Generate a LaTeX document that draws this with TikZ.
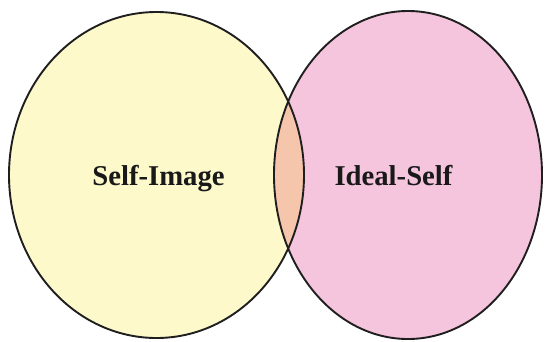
\documentclass[tikz,border=0pt]{standalone}
\usepackage{fontspec}
\setmainfont{Liberation Serif}
\usetikzlibrary{shapes.geometric}
\definecolor{selfyellow}{RGB}{253,249,202}
\definecolor{idealpink}{RGB}{245,196,221}
\definecolor{lenspeach}{RGB}{246,198,172}
\tikzset{
  setshape/.style={ellipse, inner sep=0pt, outer sep=0pt, line width=1.9pt, draw=black!88},
  setlabel/.style={anchor=base, inner sep=0pt, font=\bfseries\fontsize{28.7}{30}\selectfont, text=black!90}
}
\begin{document}
\begin{tikzpicture}[x=1pt,y=-1pt]
  \useasboundingbox (0,0) rectangle (547,341);
  \fill[white] (0,0) rectangle (547,341);
  \fill[selfyellow] (156.5,175) ellipse [x radius=147.5, y radius=163];
  \fill[idealpink] (408,175) ellipse [x radius=134, y radius=164];
  \begin{scope}
    \clip (156.5,175) ellipse [x radius=147.5, y radius=163];
    \fill[lenspeach] (408,175) ellipse [x radius=134, y radius=164];
  \end{scope}
  \node[setshape, minimum width=295pt, minimum height=326pt] (selfimage) at (156.5,175) {};
  \node[setshape, minimum width=268pt, minimum height=328pt] (idealself) at (408,175) {};
  \node[setlabel] (lblself) at (158.5,185) {Self-Image};
  \node[setlabel] (lblideal) at (393.5,185) {Ideal-Self};
\end{tikzpicture}
\end{document}
